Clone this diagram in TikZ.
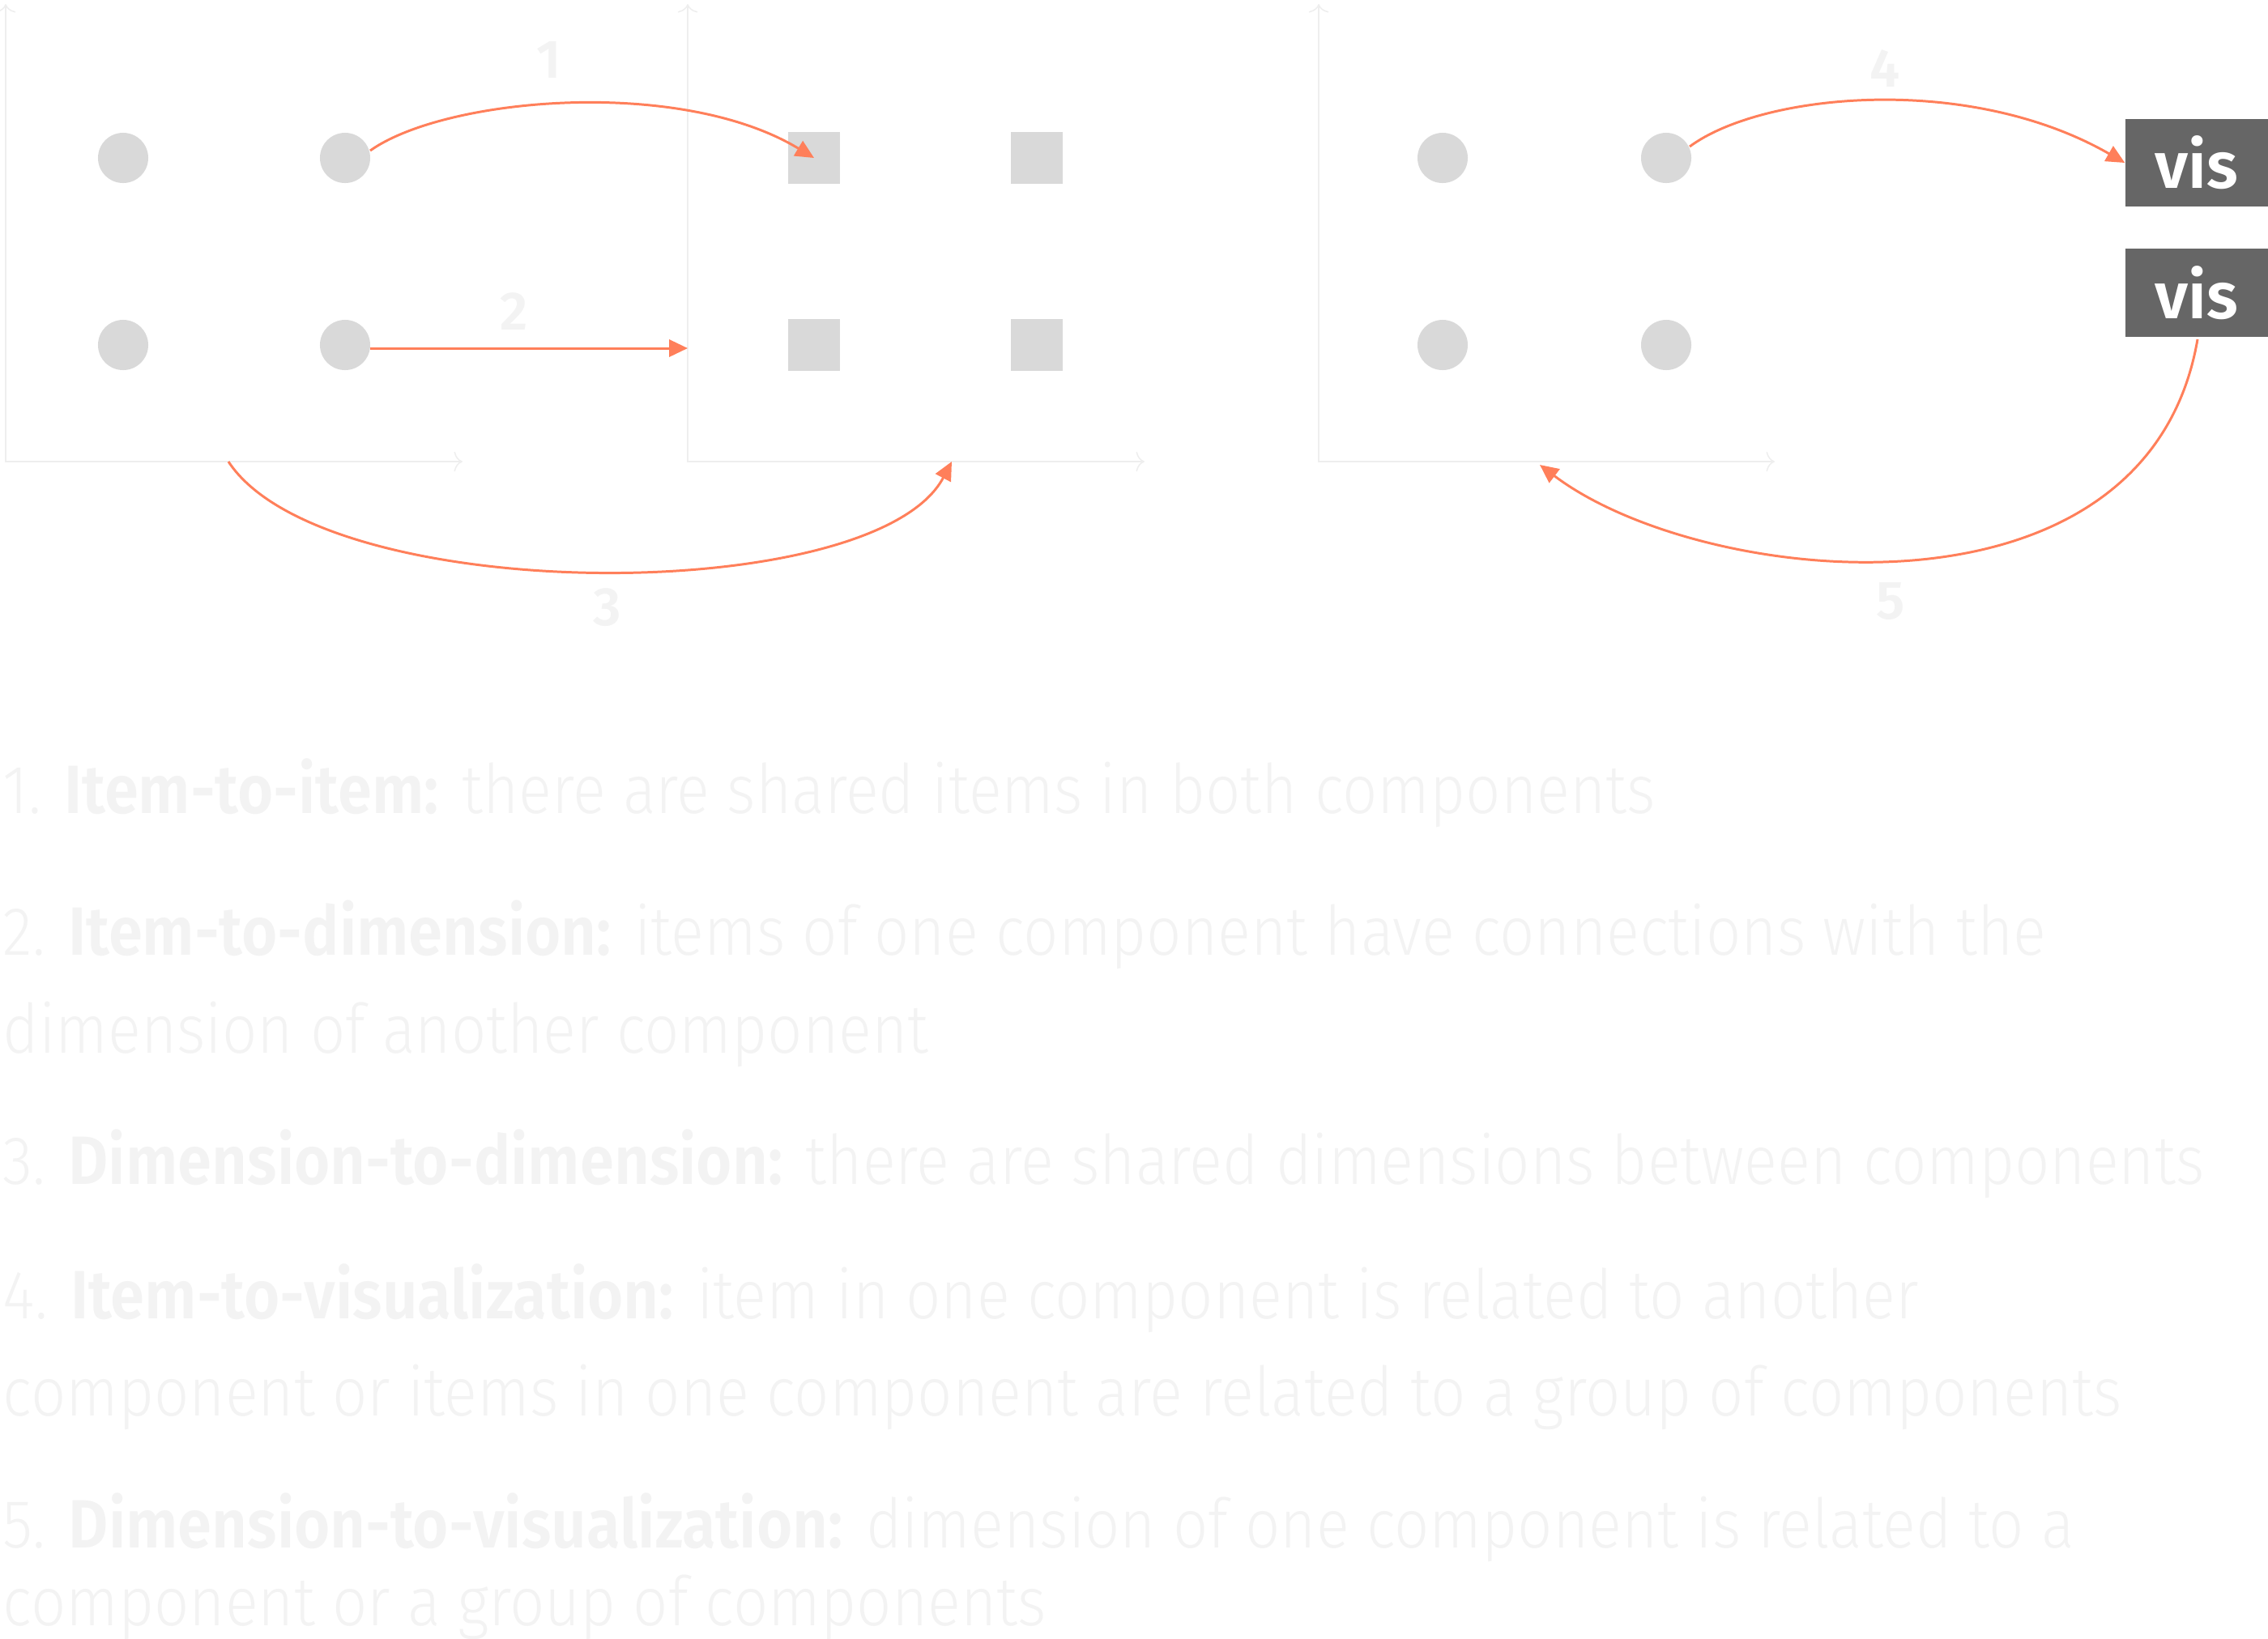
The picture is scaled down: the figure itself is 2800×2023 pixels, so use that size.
\documentclass[tikz,border=0pt]{standalone}
\usepackage{graphicx}
\usepackage{fontspec}
\setmainfont{Fira Sans}[UprightFont=* Light, BoldFont=* SemiBold]
\usetikzlibrary{arrows.meta}
\definecolor{coral}{RGB}{255,127,90}
\definecolor{dotgray}{RGB}{217,217,217}
\definecolor{axisgray}{RGB}{238,238,238}
\definecolor{txtgray}{RGB}{243,243,243}
\definecolor{visgray}{RGB}{102,102,102}
\newcommand\narrowline[1]{\scalebox{0.9}[1]{#1}}
\begin{document}
\begin{tikzpicture}[x=0.01cm,y=-0.01cm,
  dotnode/.style={circle, fill=dotgray, inner sep=0pt, minimum size=0.62cm},
  sqnode/.style={rectangle, fill=dotgray, inner sep=0pt, minimum size=0.63cm},
  visnode/.style={rectangle, fill=visgray, inner sep=0pt, minimum width=1.76cm, minimum height=1.08cm,
     text=white, font=\bfseries\fontsize{23}{26}\selectfont},
  axisline/.style={draw=axisgray, line width=0.45pt, {To[length=3pt,width=7pt]}-{To[length=3pt,width=7pt]}},
  conn/.style={draw=coral, line width=0.85pt, -{Triangle[length=6.5pt,width=6pt]}},
  numlabel/.style={text=txtgray, font=\bfseries\fontsize{19}{22}\selectfont, inner sep=0pt},
  desc/.style={text=txtgray, anchor=base west, inner sep=0pt, font=\fontsize{24}{28}\selectfont}
]
\useasboundingbox (0,0) rectangle (2800,2023);

% axes
\coordinate (a1t) at (7,5);   \coordinate (a1o) at (7,570);   \coordinate (a1r) at (571,570);
\coordinate (a2t) at (849,5); \coordinate (a2o) at (849,570); \coordinate (a2r) at (1413,570);
\coordinate (a3t) at (1628,5);\coordinate (a3o) at (1628,570);\coordinate (a3r) at (2191,570);
\draw[axisline] (a1t) -- (a1o) -- (a1r);
\draw[axisline] (a2t) -- (a2o) -- (a2r);
\draw[axisline] (a3t) -- (a3o) -- (a3r);

% panel 1 circles
\node[dotnode] (p1a) at (152,195) {};
\node[dotnode] (p1b) at (426,195) {};
\node[dotnode] (p1c) at (152,426) {};
\node[dotnode] (p1d) at (426,426) {};
% panel 2 squares
\node[sqnode] (p2a) at (1005,195) {};
\node[sqnode] (p2b) at (1280,195) {};
\node[sqnode] (p2c) at (1005,426) {};
\node[sqnode] (p2d) at (1280,426) {};
% panel 3 circles
\node[dotnode] (p3a) at (1781,195) {};
\node[dotnode] (p3b) at (2057,195) {};
\node[dotnode] (p3c) at (1781,426) {};
\node[dotnode] (p3d) at (2057,426) {};
% vis boxes
\node[visnode] (vis1) at (2712,201) {vis};
\node[visnode] (vis2) at (2712,361.5) {vis};

% connectors
\coordinate (s1) at (457,186);
\coordinate (e2) at (849,430);
\coordinate (s2) at (457,430);
\coordinate (s3) at (282,570);
\coordinate (e3) at (1175,570);
\coordinate (s4) at (2086,181);
\coordinate (s5) at (2713,419);
\coordinate (e5) at (1901,574);
\draw[conn] (s1) .. controls (550,120) and (840,95) .. (p2a.center);
\draw[conn] (s2) -- (e2);
\draw[conn] (s3) .. controls (400,750) and (1080,750) .. (e3);
\draw[conn] (s4) .. controls (2175,115) and (2430,90) .. (vis1.west);
\draw[conn] (s5) .. controls (2650,785) and (2100,725) .. (e5);

% number labels
\node[numlabel] (n1) at (678,74) {1};
\node[numlabel] (n2) at (635,385) {2};
\node[numlabel] (n3) at (750,750) {3};
\node[numlabel] (n4) at (2327,84) {4};
\node[numlabel] (n5) at (2334,742) {5};

% descriptions
\node[desc] (d1) at (3,1004) {\narrowline{1. \textbf{Item-to-item:} there are shared items in both components}};
\node[desc] (d2) at (3,1179) {\narrowline{2. \textbf{Item-to-dimension:} items of one component have connections with the}};
\node[desc] (d2b) at (3,1300) {\narrowline{dimension of another component}};
\node[desc] (d3) at (3,1462) {\narrowline{3. \textbf{Dimension-to-dimension:} there are shared dimensions between components}};
\node[desc] (d4) at (3,1628) {\narrowline{4. \textbf{Item-to-visualization:} item in one component is related to another}};
\node[desc] (d4b) at (3,1748) {\narrowline{component or items in one component are related to a group of components}};
\node[desc] (d5) at (3,1911) {\narrowline{5. \textbf{Dimension-to-visualization:} dimension of one component is related to a}};
\node[desc] (d5b) at (3,2007) {\narrowline{component or a group of components}};
\end{tikzpicture}
\end{document}
